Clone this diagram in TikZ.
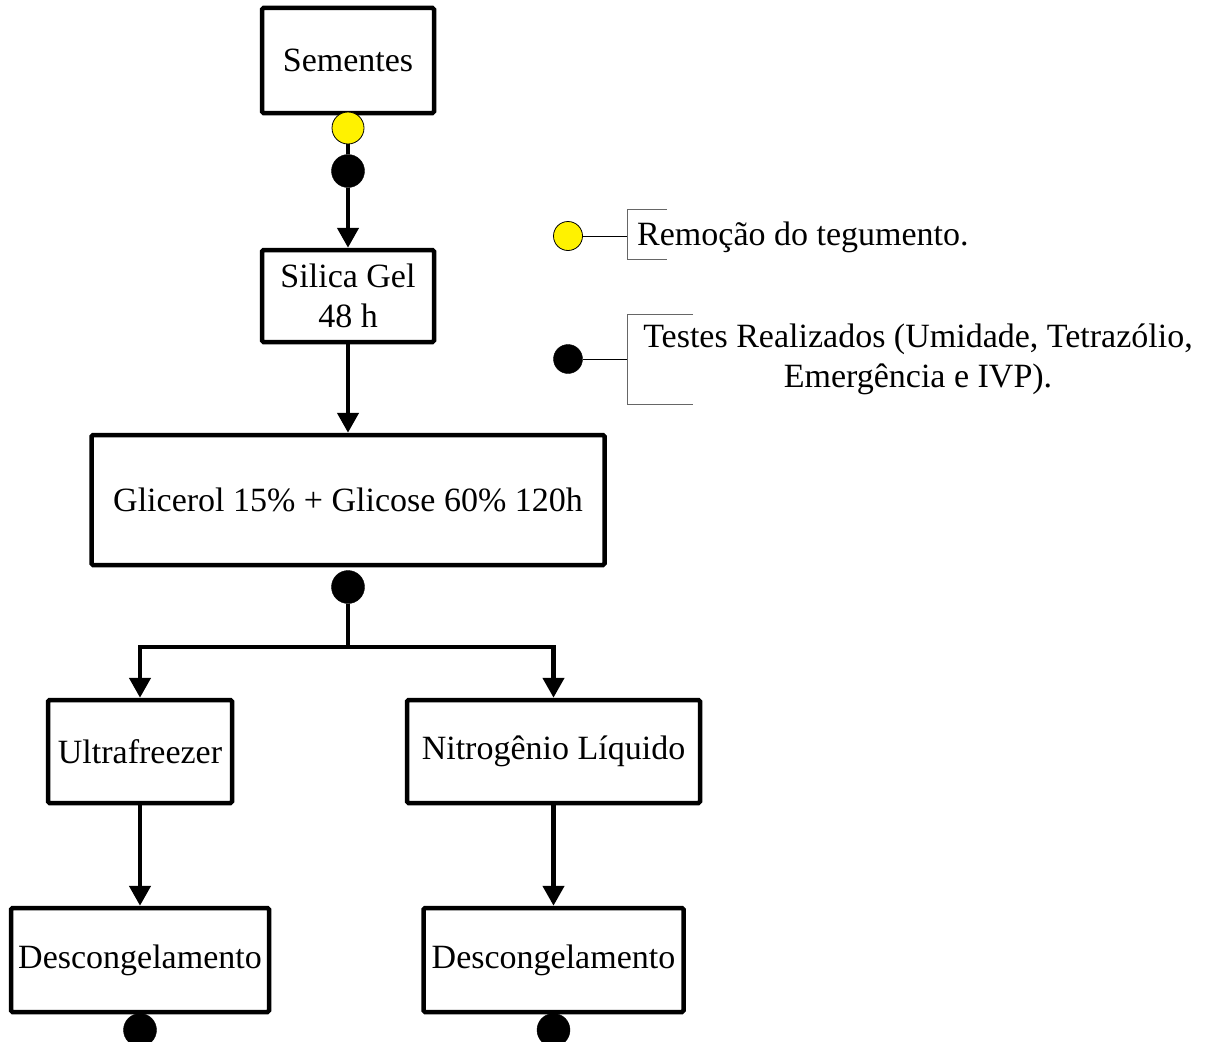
\documentclass[tikz,border=0pt]{standalone}
\usepackage{fontspec}
\setmainfont{Liberation Serif}
\usetikzlibrary{arrows.meta}
\begin{document}
\begin{tikzpicture}[x=1pt,y=-1pt,
  box/.style={draw,line width=4.5pt,rounded corners=1.5pt,inner sep=0pt,align=center,
    font=\fontsize{34}{40}\selectfont},
  arr/.style={line width=4.5pt,-{Triangle[width=21pt,length=20pt]}},
  ln/.style={line width=4.5pt},
  dotb/.style={circle,fill=black,draw=black,minimum size=33pt,inner sep=0pt},
  doty/.style={circle,fill=yellow,draw=black,line width=0.8pt,minimum size=32pt,inner sep=0pt},
  leg/.style={line width=0.9pt,draw=black!60},
  legtxt/.style={font=\fontsize{34}{40}\selectfont,align=center,inner sep=0pt}
]
\useasboundingbox (0,0) rectangle (1206,1041);
\clip (0,0) rectangle (1206,1041);

\node[box,minimum width=172pt,minimum height=105pt] (sem) at (348,60.5) {Sementes};
\node[box,minimum width=172pt,minimum height=92pt] (sil) at (348,296) {Silica Gel\\48 h};
\node[box,minimum width=513pt,minimum height=130pt] (gli) at (348,500) {Glicerol 15\% + Glicose 60\% 120h};
\node[box,minimum width=184pt,minimum height=103pt] (ult) at (140,751.5) {Ultrafreezer};
\node[box,minimum width=293pt,minimum height=103pt] (nit) at (553.5,751.5) {Nitrogênio Líquido};
\node[box,minimum width=258pt,minimum height=104pt] (dl) at (140,960) {Descongelamento};
\node[box,minimum width=260pt,minimum height=104pt] (dr) at (553.5,960) {Descongelamento};

\node[doty] (y1) at (348,128) {};
\node[dotb] (b1) at (348,171) {};
\node[dotb] (b2) at (348,587) {};
\node[dotb] (b3) at (140,1030) {};
\node[dotb] (b4) at (553.5,1030) {};

\draw[ln] (y1) -- (b1);
\draw[arr] (b1) -- (sil);
\draw[arr] (sil) -- (gli);
\coordinate (j) at (348,647);
\draw[ln] (b2) -- (j);
\draw[arr] (j) -| (ult);
\draw[arr] (j) -| (nit);
\draw[arr] (ult) -- (dl);
\draw[arr] (nit) -- (dr);

% legend
\node[doty,minimum size=29pt] (ly) at (568,236) {};
\coordinate (ly1) at (627,236);
\draw[line width=0.9pt] (ly) -- (ly1);
\draw[leg] (667,209) -- (627,209) -- (627,259) -- (667,259);
\node[legtxt,anchor=west] (lyt) at (637,237) {Remoção do tegumento.};

\node[dotb,minimum size=29pt] (lb) at (568,359) {};
\coordinate (lb1) at (627,359);
\draw[line width=0.9pt] (lb) -- (lb1);
\draw[leg] (693,314) -- (627,314) -- (627,404) -- (693,404);
\node[legtxt] (lbt) at (918,359) {Testes Realizados (Umidade, Tetrazólio,\\Emergência e IVP).};
\end{tikzpicture}
\end{document}
